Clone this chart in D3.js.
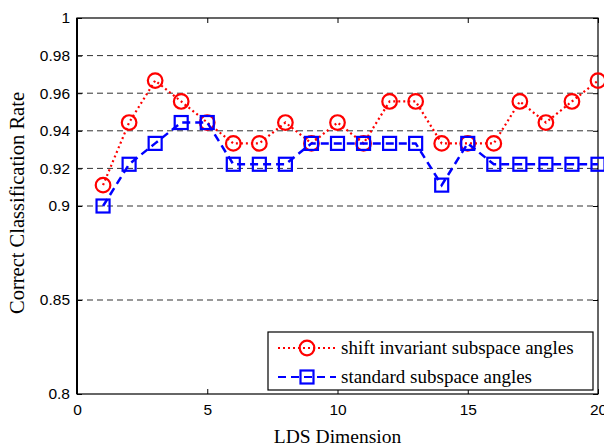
<!DOCTYPE html>
<html>
<head>
<meta charset="utf-8">
<script src="https://cdn.jsdelivr.net/npm/d3@7"></script>
<style>
  body { margin: 0; background: #fff; }
  svg { display: block; }
</style>
</head>
<body>
<div id="chart"></div>
<script>
// data
var dims = d3.range(1, 21);
var shiftInvariant = [0.9111, 0.9444, 0.9667, 0.9556, 0.9444, 0.9333, 0.9333, 0.9444, 0.9333, 0.9444,
                      0.9333, 0.9556, 0.9556, 0.9333, 0.9333, 0.9333, 0.9556, 0.9444, 0.9556, 0.9667];
var standard = [0.9, 0.9222, 0.9333, 0.9444, 0.9444, 0.9222, 0.9222, 0.9222, 0.9333, 0.9333,
                0.9333, 0.9333, 0.9333, 0.9111, 0.9333, 0.9222, 0.9222, 0.9222, 0.9222, 0.9222];
var xTicks = [0, 5, 10, 15, 20];
var yTicks = [0.8, 0.85, 0.9, 0.92, 0.94, 0.96, 0.98, 1];
var yTickLabels = ["0.8", "0.85", "0.9", "0.92", "0.94", "0.96", "0.98", "1"];
var seriesNames = ["shift invariant subspace angles", "standard subspace angles"];

var W = 604, H = 447;
var margin = {top: 18, right: 6, bottom: 53, left: 77},
    width = W - margin.left - margin.right,
    height = H - margin.top - margin.bottom;

var svg = d3.select('#chart').append('svg')
    .attr('width', W)
    .attr('height', H);

var g = svg.append('g')
    .attr('transform', 'translate(' + margin.left + ',' + margin.top + ')');

var x = d3.scaleLinear().domain([0, 20]).range([0, width]);
var y = d3.scaleLinear().domain([0.8, 1]).range([height, 0]);

// grid lines (dashed)
g.selectAll('.grid')
    .data(yTicks.filter(function(d) { return d > 0.8 && d < 1; }))
    .enter().append('line')
    .attr('x1', 0).attr('x2', width)
    .attr('y1', function(d) { return y(d); })
    .attr('y2', function(d) { return y(d); })
    .attr('stroke', '#333')
    .attr('stroke-width', 1)
    .attr('stroke-dasharray', '6,4');

// box
g.append('rect')
    .attr('width', width).attr('height', height)
    .attr('fill', 'none')
    .attr('stroke', '#000')
    .attr('stroke-width', 1.2);
g.append('line')
    .attr('x1', 0).attr('x2', 0).attr('y1', 0).attr('y2', height)
    .attr('stroke', '#000').attr('stroke-width', 2);

// axes with inward ticks
var xAxis = d3.axisBottom(x).tickValues(xTicks).tickSizeInner(-5).tickSizeOuter(0).tickPadding(10);
var yAxis = d3.axisLeft(y).tickValues(yTicks)
    .tickFormat(function(d, i) { return yTickLabels[i]; })
    .tickSizeInner(-5).tickSizeOuter(0).tickPadding(7);

var gx = g.append('g').attr('transform', 'translate(0,' + height + ')').call(xAxis);
var gy = g.append('g').call(yAxis);
[gx, gy].forEach(function(a) {
    a.select('.domain').remove();
    a.selectAll('text')
        .style('font-family', '"Liberation Sans", Arial, sans-serif')
        .style('font-size', '15.5px')
        .attr('fill', '#000');
    a.selectAll('line').attr('stroke', '#000');
});

// top and right ticks
g.append('g').call(d3.axisTop(x).tickValues(xTicks).tickSizeInner(-5).tickSizeOuter(0).tickFormat(''))
    .call(function(a) { a.select('.domain').remove(); a.selectAll('line').attr('stroke', '#000'); });
g.append('g').attr('transform', 'translate(' + width + ',0)')
    .call(d3.axisRight(y).tickValues(yTicks).tickSizeInner(-5).tickSizeOuter(0).tickFormat(''))
    .call(function(a) { a.select('.domain').remove(); a.selectAll('line').attr('stroke', '#000'); });

// axis labels
svg.append('text')
    .attr('x', margin.left + x(10)).attr('y', 443)
    .attr('text-anchor', 'middle')
    .style('font-family', '"Liberation Serif", "Times New Roman", serif')
    .style('font-size', '19.5px')
    .text('LDS Dimension');
svg.append('text')
    .attr('transform', 'translate(24,203) rotate(-90)')
    .attr('text-anchor', 'middle')
    .style('font-family', '"Liberation Serif", "Times New Roman", serif')
    .style('font-size', '20.5px')
    .text('Correct Classification Rate');

var line = d3.line()
    .x(function(d) { return x(d[0]); })
    .y(function(d) { return y(d[1]); });

var redData = dims.map(function(d, i) { return [d, shiftInvariant[i]]; });
var blueData = dims.map(function(d, i) { return [d, standard[i]]; });

// red series
g.append('path').datum(redData)
    .attr('d', line).attr('fill', 'none')
    .attr('stroke', '#ff0000').attr('stroke-width', 2.2)
    .attr('stroke-dasharray', '2,3');
g.selectAll('.redpt').data(redData).enter().append('circle')
    .attr('cx', function(d) { return x(d[0]); })
    .attr('cy', function(d) { return y(d[1]); })
    .attr('r', 7.3)
    .attr('fill', 'none').attr('stroke', '#ff0000').attr('stroke-width', 2.2);

// blue series
g.append('path').datum(blueData)
    .attr('d', line).attr('fill', 'none')
    .attr('stroke', '#0000ff').attr('stroke-width', 2.5)
    .attr('stroke-dasharray', '8,5');
g.selectAll('.bluept').data(blueData).enter().append('rect')
    .attr('x', function(d) { return x(d[0]) - 6.5; })
    .attr('y', function(d) { return y(d[1]) - 6.5; })
    .attr('width', 13).attr('height', 13)
    .attr('fill', 'none').attr('stroke', '#0000ff').attr('stroke-width', 2.2);

// legend
var lg = svg.append('g').attr('transform', 'translate(268,332)');
lg.append('rect')
    .attr('width', 325).attr('height', 58)
    .attr('fill', '#fff').attr('stroke', '#000').attr('stroke-width', 1.2);
var legendItems = [
    {name: seriesNames[0], color: '#ff0000', dash: '2,3', shape: 'circle'},
    {name: seriesNames[1], color: '#0000ff', dash: '8,5', shape: 'square'}
];
legendItems.forEach(function(it, i) {
    var yy = 16 + i * 29;
    lg.append('line')
        .attr('x1', 10).attr('x2', 68).attr('y1', yy).attr('y2', yy)
        .attr('stroke', it.color).attr('stroke-width', 2.2)
        .attr('stroke-dasharray', it.dash);
    if (it.shape === 'circle') {
        lg.append('circle').attr('cx', 39).attr('cy', yy).attr('r', 7.3)
            .attr('fill', 'none').attr('stroke', it.color).attr('stroke-width', 2.2);
    } else {
        lg.append('rect').attr('x', 32.5).attr('y', yy - 6.5).attr('width', 13).attr('height', 13)
            .attr('fill', 'none').attr('stroke', it.color).attr('stroke-width', 2.2);
    }
    lg.append('text')
        .attr('x', 73).attr('y', yy + 6)
        .style('font-family', '"Liberation Serif", "Times New Roman", serif')
        .style('font-size', '19px')
        .text(it.name);
});
</script>
</body>
</html>
